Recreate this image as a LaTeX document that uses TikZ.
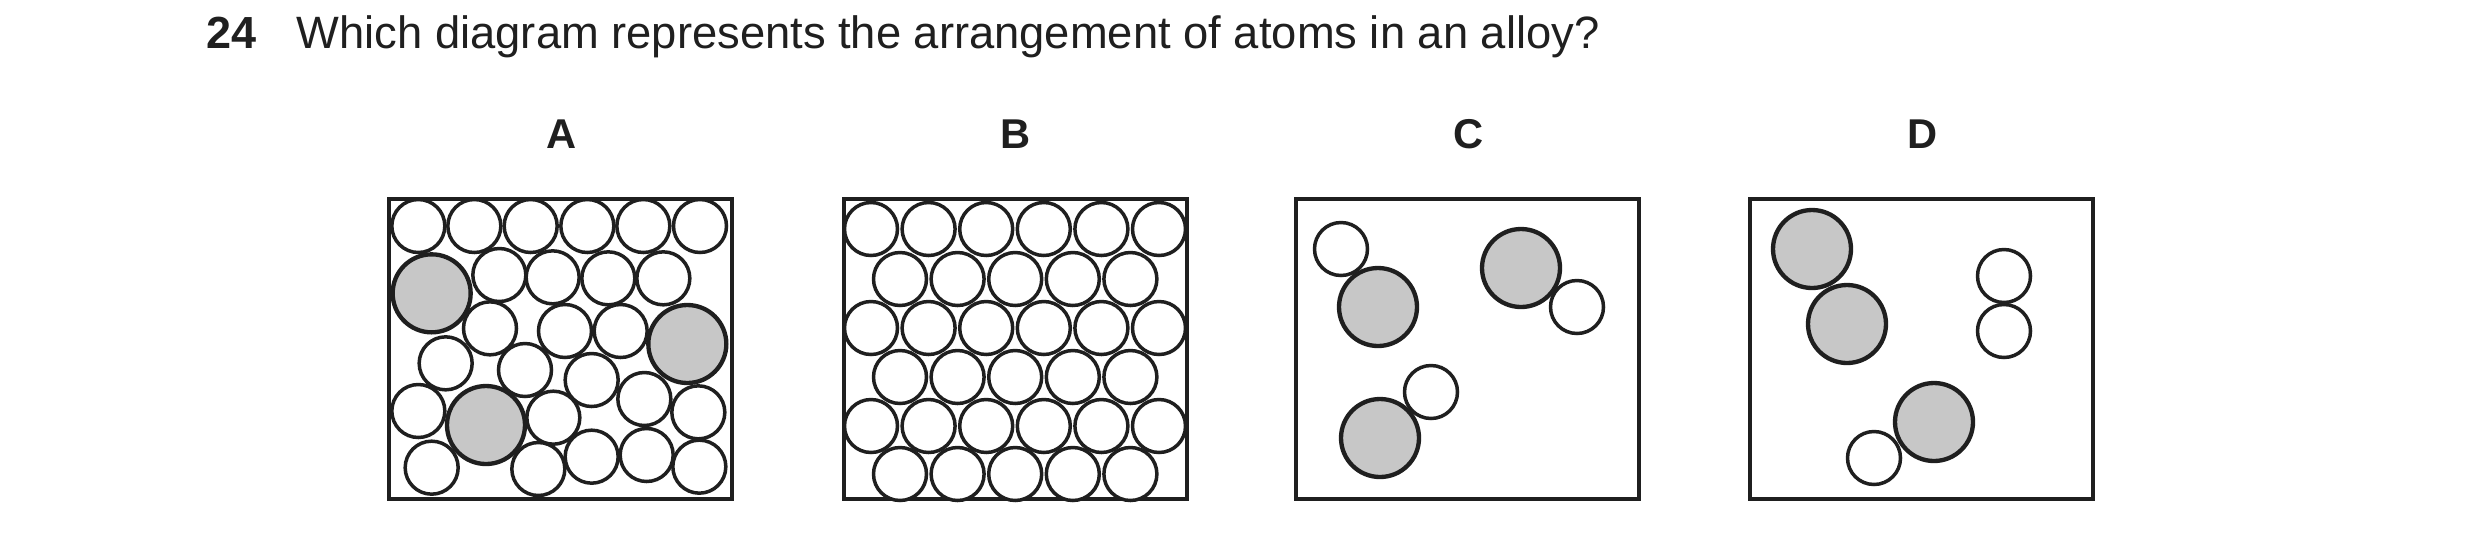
\documentclass[tikz,border=0pt]{standalone}
\usepackage{fontspec}
\setmainfont{Liberation Sans}
\begin{document}
\begin{tikzpicture}[x=0.3pt,y=-0.3pt,
  box/.style={draw=black!88,line width=1.3pt},
  sm/.style={circle,draw=black!88,line width=1.05pt,fill=white,minimum size=53*0.3pt,inner sep=0pt},
  big/.style={circle,draw=black!88,line width=1.3pt,fill=black!22,minimum size=78*0.3pt,inner sep=0pt},
  lab/.style={font=\fontsize{12.5}{14}\selectfont\bfseries,text=black!88}]
\useasboundingbox (0,0) rectangle (2480,539);
% title
\node[anchor=base west,font=\fontsize{13.5}{16}\selectfont\bfseries,text=black!88] (num) at (195,48) {24};
\node[anchor=base west,font=\fontsize{13.6}{16}\selectfont,text=black!88] (q) at (285,48) {Which diagram represents the arrangement of atoms in an alloy?};
% labels
\node[lab] (la) at (562,134) {A};
\node[lab] (lb) at (1016,134) {B};
\node[lab] (lc) at (1469,134) {C};
\node[lab] (ld) at (1923,134) {D};
% boxes
\node[box,minimum width=343*0.3pt,minimum height=300*0.3pt,anchor=north west] (boxA) at (387,197) {};
\node[box,minimum width=343*0.3pt,minimum height=300*0.3pt,anchor=north west] (boxB) at (842,197) {};
\node[box,minimum width=343*0.3pt,minimum height=300*0.3pt,anchor=north west] (boxC) at (1294,197) {};
\node[box,minimum width=343*0.3pt,minimum height=300*0.3pt,anchor=north west] (boxD) at (1748,197) {};
% A
\foreach \zx/\zy [count=\i] in {115/108,283/108,452/108,622/108,790/108,960/108,358/255,518/262,685/265,850/265,330/415,555/423,722/423,197/520,435/540,635/570,115/663,520/683,793/627,955/667,155/833,475/837,635/800,800/795,958/830}
  \node[sm] (a\i) at ({380+\zx/3},{190+\zy/3}) {};
\foreach \zx/\zy [count=\i] in {155/310,922/462,318/705}
  \node[big] (ag\i) at ({380+\zx/3},{190+\zy/3}) {};
% B
\foreach \r/\y in {0/229,2/328,4/426}
  \foreach \c in {0,...,5}
    \node[sm] (b\r\c) at ({871+57.6*\c},\y) {};
\foreach \r/\y in {1/279,3/377,5/474}
  \foreach \c in {0,...,4}
    \node[sm] (b\r\c) at ({900+57.6*\c},\y) {};
% C
\node[sm] (c1) at (1341,249) {};
\node[big] (c2) at (1378,307) {};
\node[big] (c3) at (1521,268) {};
\node[sm] (c4) at (1577,307) {};
\node[sm] (c5) at (1431,392) {};
\node[big] (c6) at (1380,438) {};
% D
\node[big] (d1) at (1812,249) {};
\node[big] (d2) at (1847,324) {};
\node[sm] (d3) at (2004,276) {};
\node[sm] (d4) at (2004,331) {};
\node[sm] (d5) at (1874,458) {};
\node[big] (d6) at (1934,422) {};
\end{tikzpicture}
\end{document}
